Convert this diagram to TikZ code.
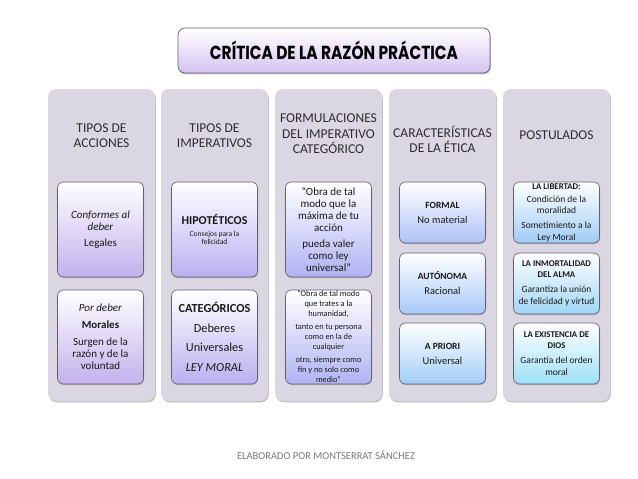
\documentclass[tikz,border=0pt]{standalone}
\usepackage{fontspec}
\usepackage{graphicx}
\setmainfont{Carlito}
\newfontfamily\titlefont{Poppins}
\usetikzlibrary{shadows}
\newcommand\fsz[2]{\fontsize{#1}{#2}\selectfont}
\definecolor{colfill}{RGB}{218,215,227}
\definecolor{bordercol}{RGB}{100,94,116}
\definecolor{titlebot}{RGB}{212,196,240}
\definecolor{cA}{RGB}{194,177,236}
\definecolor{cB}{RGB}{186,176,240}
\definecolor{cC}{RGB}{176,178,243}
\definecolor{cD}{RGB}{174,194,246}
\definecolor{cE}{RGB}{168,200,246}
\definecolor{cF}{RGB}{162,206,246}
\definecolor{cG}{RGB}{160,204,246}
\definecolor{cH}{RGB}{158,214,246}
\definecolor{cI}{RGB}{156,224,246}
\definecolor{headtext}{RGB}{45,45,45}
\definecolor{bodytext}{RGB}{25,25,25}
\definecolor{foottext}{RGB}{120,120,120}
\tikzset{
  colbox/.style={draw=none, fill=colfill, rounded corners=8pt,
    minimum width=107pt, minimum height=312pt, inner sep=0pt,
    drop shadow={shadow xshift=0.8pt, shadow yshift=-1.4pt, fill=black, opacity=0.25}},
  headtxt/.style={font=\fsz{13.5}{15.5}, align=center, text=headtext, inner sep=0pt},
  innerbox/.style={draw=bordercol, line width=0.6pt, rounded corners=6pt,
    minimum width=86pt, text width=84pt, inner xsep=1pt, inner ysep=0pt, align=flush center, text=bodytext,
    top color=white, bottom color=#1,
    drop shadow={shadow xshift=0.6pt, shadow yshift=-1pt, fill=black, opacity=0.2}},
  titlebox/.style={draw=bordercol, line width=0.7pt, rounded corners=7pt,
    top color=white, bottom color=titlebot, minimum width=312pt, minimum height=45pt,
    drop shadow={shadow xshift=0.8pt, shadow yshift=-1.4pt, fill=black, opacity=0.25}},
  foot/.style={font=\fsz{10.5}{12}, text=foottext}
}
\begin{document}
\begin{tikzpicture}[x=1pt,y=-1pt]
\useasboundingbox (0,0) rectangle (638,479);
\fill[white] (0,0) rectangle (638,479);

% title
\node[titlebox] (title) at (334,50.5)
  {\titlefont\bfseries\fsz{14}{14}\scalebox{1.1}[1.35]{CRÍTICA DE LA RAZÓN PRÁCTICA}};

% columns
\node[colbox] (col1) at (101.5,245) {};
\node[colbox] (col2) at (214.5,245) {};
\node[colbox] (col3) at (328.5,245) {};
\node[colbox] (col4) at (442.5,245) {};
\node[colbox] (col5) at (556.5,245) {};

% headers
\node[headtxt] (h1) at (101.5,135.5) {TIPOS DE\\ACCIONES};
\node[headtxt] (h2) at (214.5,135.5) {TIPOS DE\\IMPERATIVOS};
\node[headtxt] (h3) at (328.5,134) {FORMULACIONES\\DEL IMPERATIVO\\CATEGÓRICO};
\node[headtxt] (h4) at (442.5,139.5) {CARACTERÍSTICAS\\DE LA ÉTICA};
\node[headtxt] (h5) at (556.5,135) {POSTULADOS};

% column 1
\node[innerbox=cA, minimum height=95pt] (a1) at (100.5,229.5)
  {\fsz{11}{12.5}\textit{Conformes al}\\\textit{deber}\\[3pt]Legales\par};
\node[innerbox=cA, minimum height=94pt] (a2) at (100.5,337)
  {\fsz{11}{12}\textit{Por deber}\\[5pt]\textbf{Morales}\\[5pt]Surgen de la\\razón y de la\\voluntad\par};

% column 2
\node[innerbox=cB, minimum height=95pt] (b1) at (214.5,229.5)
  {{\fsz{12}{14}\textbf{HIPOTÉTICOS}\par}\vspace{3pt}{\fsz{7.5}{8.5}Consejos para la\\felicidad\par}};
\node[innerbox=cB, minimum height=94pt] (b2) at (214.5,337)
  {\fsz{12.3}{14}\textbf{CATEGÓRICOS}\\[5.5pt]Deberes\\[5.5pt]Universales\\[5.5pt]\textit{LEY MORAL}\par};

% column 3
\node[innerbox=cC, minimum height=95pt] (c1) at (328.5,229.5)
  {\fsz{11}{12.2}“Obra de tal\\modo que la\\máxima de tu\\acción\\[3.5pt]pueda valer\\como ley\\universal”\par};
\node[innerbox=cC, minimum height=94pt] (c2) at (328.5,337)
  {\fsz{8.3}{10}“Obra de tal modo\\que trates a la\\humanidad,\\[3pt]tanto en tu persona\\como en la de\\cualquier\\[3pt]otro, siempre como\\fin y no solo como\\medio”\par};

% column 4
\node[innerbox=cD, minimum height=61pt] (d1) at (442.5,212.5)
  {{\fsz{9.5}{11}\textbf{FORMAL}\par}\vspace{3pt}{\fsz{10.5}{12}No material\par}};
\node[innerbox=cE, minimum height=61pt] (d2) at (442.5,283.5)
  {{\fsz{9.5}{11}\textbf{AUTÓNOMA}\par}\vspace{3pt}{\fsz{10.5}{12}Racional\par}};
\node[innerbox=cF, minimum height=61pt] (d3) at (442.5,353.5)
  {{\fsz{9.5}{11}\textbf{A PRIORI}\par}\vspace{3pt}{\fsz{10.5}{12}Universal\par}};

% column 5
\node[innerbox=cG, minimum height=61pt] (e1) at (556.5,212.5)
  {{\fsz{8.8}{10.5}\textbf{LA LIBERTAD:}\par}\vspace{1.5pt}{\fsz{9.5}{11.5}Condición de la\\moralidad\\[3.5pt]Sometimiento a la\\Ley Moral\par}};
\node[innerbox=cH, minimum height=61pt] (e2) at (556.5,283.5)
  {{\fsz{8.8}{10.8}\textbf{LA INMORTALIDAD}\\\textbf{DEL ALMA}\par}\vspace{3.5pt}{\fsz{9.5}{11.8}Garantiza la unión\\de felicidad y virtud\par}};
\node[innerbox=cI, minimum height=61pt] (e3) at (556.5,353.5)
  {{\fsz{8.8}{10.8}\textbf{LA EXISTENCIA DE}\\\textbf{DIOS}\par}\vspace{3.5pt}{\fsz{9.5}{11.8}Garantía del orden\\moral\par}};

% footer
\node[foot] (footer) at (326,455) {ELABORADO POR MONTSERRAT SÁNCHEZ};
\end{tikzpicture}
\end{document}
